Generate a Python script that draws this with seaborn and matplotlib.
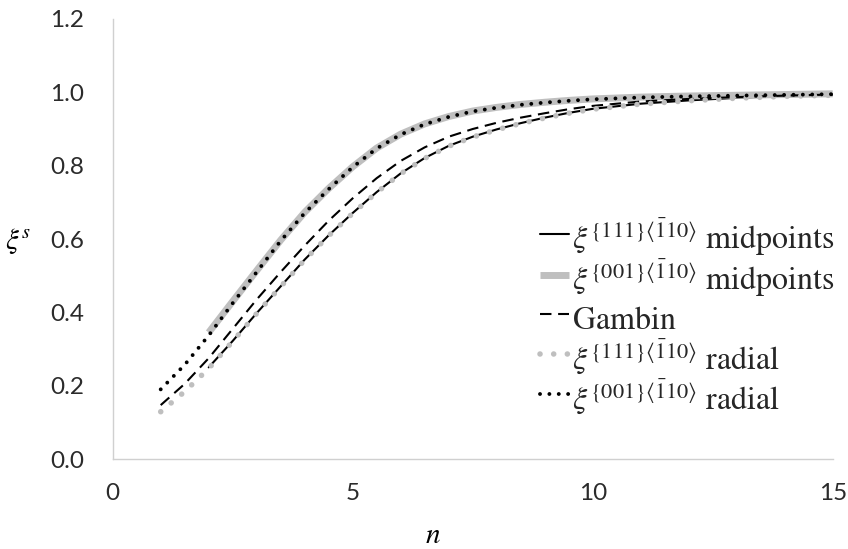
import matplotlib
matplotlib.use("Agg")
import matplotlib.pyplot as plt
from matplotlib.ticker import MultipleLocator
import seaborn as sns
import pandas as pd

# Grid of n values for the radial / Gambin curves, and for the midpoint curves
n_full = [1, 1.5, 2, 2.5, 3, 3.5, 4, 4.5, 5, 5.5, 6, 6.5, 7, 7.5, 8, 8.5, 9, 9.5,
          10, 11, 12, 13, 14, 15]
n_mid = [2, 2.5, 3, 3.5, 4, 4.5, 5, 5.5, 6, 6.5, 7, 7.5, 8, 8.5, 9, 9.5,
         10, 11, 12, 13, 14, 15]

xi_111_mid = [0.250, 0.322, 0.398, 0.471, 0.544, 0.610, 0.671, 0.728, 0.779, 0.821,
              0.854, 0.879, 0.899, 0.916, 0.931, 0.944, 0.955, 0.969, 0.978, 0.985,
              0.990, 0.993]
xi_001_mid = [0.345, 0.430, 0.514, 0.597, 0.673, 0.738, 0.797, 0.848, 0.886, 0.914,
              0.934, 0.949, 0.959, 0.967, 0.973, 0.978, 0.982, 0.987, 0.990, 0.992,
              0.994, 0.996]
gambin = [0.147, 0.205, 0.275, 0.355, 0.435, 0.510, 0.582, 0.650, 0.711, 0.766,
          0.813, 0.850, 0.879, 0.900, 0.917, 0.931, 0.943, 0.954, 0.963, 0.975,
          0.982, 0.987, 0.991, 0.994]
xi_111_rad = [0.129, 0.184, 0.247, 0.321, 0.397, 0.470, 0.543, 0.609, 0.670, 0.727,
              0.778, 0.820, 0.853, 0.878, 0.898, 0.915, 0.930, 0.943, 0.954, 0.968,
              0.977, 0.984, 0.989, 0.992]
xi_001_rad = [0.190, 0.257, 0.337, 0.425, 0.510, 0.595, 0.671, 0.736, 0.796, 0.847,
              0.885, 0.913, 0.933, 0.948, 0.958, 0.966, 0.972, 0.977, 0.981, 0.986,
              0.989, 0.991, 0.993, 0.995]

labels = [
    r"$\xi^{\{111\}\langle\bar{1}10\rangle}\ \mathrm{midpoints}$",
    r"$\xi^{\{001\}\langle\bar{1}10\rangle}\ \mathrm{midpoints}$",
    r"$\mathrm{Gambin}$",
    r"$\xi^{\{111\}\langle\bar{1}10\rangle}\ \mathrm{radial}$",
    r"$\xi^{\{001\}\langle\bar{1}10\rangle}\ \mathrm{radial}$",
]

sns.set_theme(style="white")
plt.rcParams["mathtext.fontset"] = "stix"
plt.rcParams["font.family"] = ["Lato", "DejaVu Sans"]

GRAY = "#bfbfbf"
AXIS_GRAY = "#d0d0d0"
TEXT = "#2b2b2b"

fig = plt.figure(figsize=(8.48, 5.49), dpi=100)
ax = fig.add_axes([0.1329, 0.1639, 0.982 - 0.1329, 0.9654 - 0.1639])

series = [
    (n_mid, xi_111_mid, dict(color="black", lw=1.5, linestyle="-")),
    (n_mid, xi_001_mid, dict(color=GRAY, lw=5.0, linestyle="-", solid_capstyle="butt")),
    (n_full, gambin, dict(color="black", lw=1.5, linestyle=(0, (5.5, 3.2)))),
    (n_full, xi_111_rad, dict(color=GRAY, lw=4.0, linestyle=(0, (0.01, 2.45)),
                              dash_capstyle="round")),
    (n_full, xi_001_rad, dict(color="black", lw=2.8, linestyle=(0, (0.01, 2.4)),
                              dash_capstyle="round")),
]

for (xs, ys, style), lab in zip(series, labels):
    df = pd.DataFrame({"n": xs, "xi": ys})
    sns.lineplot(data=df, x="n", y="xi", ax=ax, label=lab, sort=True,
                 estimator=None, **style)

ax.set_xlim(0, 15)
ax.set_ylim(0, 1.2)
ax.xaxis.set_major_locator(MultipleLocator(5))
ax.xaxis.set_minor_locator(MultipleLocator(1))
ax.set_yticks([0.0, 0.2, 0.4, 0.6, 0.8, 1.0, 1.2])
ax.set_yticklabels(["0.0", "0.2", "0.4", "0.6", "0.8", "1.0", "1.2"])

for side in ["top", "right"]:
    ax.spines[side].set_visible(False)
for side in ["left", "bottom"]:
    ax.spines[side].set_color(AXIS_GRAY)
    ax.spines[side].set_linewidth(1.0)

ax.tick_params(axis="both", which="both", direction="out", length=5.5, width=1.0,
               color=AXIS_GRAY, labelcolor=TEXT, labelsize=17.5)
ax.tick_params(axis="y", pad=15)
ax.tick_params(axis="x", which="both", pad=12)
ax.tick_params(axis="y", which="minor", length=0)
ax.grid(False)

ax.set_xlabel(r"$n$", fontsize=21, color="black")
ax.xaxis.set_label_coords(0.445, -0.173)
ax.xaxis.label.set_va("center")
ax.set_ylabel(r"$\xi^s$", fontsize=21, color="black", rotation=0)
ax.yaxis.set_label_coords(-0.131, 0.495)
ax.yaxis.label.set_va("center")
ax.yaxis.label.set_ha("center")

leg = ax.legend(loc="upper left", bbox_to_anchor=(0.594, 0.553), frameon=False,
                prop={"size": 23},
                handlelength=0.9, handletextpad=0.1, handleheight=1.5,
                labelspacing=-0.03, borderpad=0, borderaxespad=0)

fig.savefig("out.png", dpi=100, facecolor="white")
